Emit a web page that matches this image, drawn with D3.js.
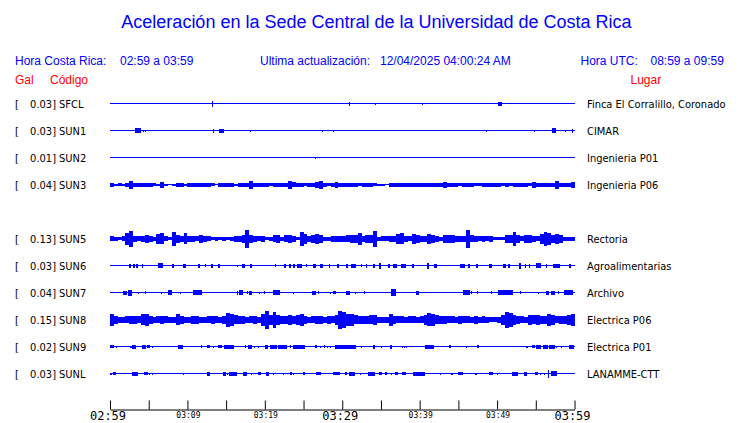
<!DOCTYPE html>
<html><head><meta charset="utf-8">
<script src="https://cdn.jsdelivr.net/npm/d3@7"></script>
<style>body{margin:0;background:#fff} svg{display:block}</style>
</head><body><svg id="c" width="740" height="423"></svg>
<script>
// ---------- data ----------
const titleText = "Aceleración en la Sede Central de la Universidad de Costa Rica";
const localWindow = "02:59 a 03:59";
const utcWindow = "08:59 a 09:59";
const lastUpdate = "12/04/2025 04:00:24 AM";

const stationSlots = ["SFCL","SUN1","SUN2","SUN3","SUN4","SUN5","SUN6","SUN7","SUN8","SUN9","SUNL"];
const stations = ["SFCL","SUN1","SUN2","SUN3","SUN5","SUN6","SUN7","SUN8","SUN9","SUNL"];
const peakGal = [0.03,0.03,0.01,0.04,0.13,0.03,0.04,0.15,0.02,0.03];
const places = ["Finca El Corralillo, Coronado","CIMAR","Ingenieria P01","Ingenieria P06","Rectoria","Agroalimentarias","Archivo","Electrica P06","Electrica P01","LANAMME-CTT"];

const tickMinutes = [0,5,10,15,20,25,30,35,40,45,50,55,60];
const majorLabels = [[0,"02:59"],[30,"03:29"],[60,"03:59"]];
const minorLabels = [[10,"03:09"],[20,"03:19"],[40,"03:39"],[50,"03:49"]];

// sparse stations: [startMinute, endMinute, amplitude]
const sfclEvents = [[13.2,13.3,3],[30.88,30.95,2],[34.28,34.3,1],[40.3,40.35,1],[50.15,50.67,2]];
const sun1Events = [[3.23,4.0,2.5],[4.22,4.26,1],[4.55,4.6,1],[13.33,13.38,2],[14.06,14.67,2],[18.1,18.14,1],[27.32,27.36,1],[28.81,28.85,1],[48.55,48.6,1],[54.75,54.8,1],[57.03,57.55,2.5],[58.8,58.85,1],[59.65,59.72,2]];
const sun2Events = [[26.49,26.55,1]];
const sun6Events = [[2.49,2.67,2],[3.01,3.23,2],[3.35,3.65,2],[4.09,4.3,2],[6.23,6.8,2.5],[8.04,8.26,2],[9.38,9.81,2],[11.39,11.61,2],[12.26,12.32,1.5],[13.03,13.25,2],[13.97,14.19,2],[16.35,16.4,1],[16.99,17.42,2],[18.06,18.28,2],[21.29,21.34,1.5],[22.45,22.71,2],[23.14,23.32,2],[23.65,23.87,2],[24.17,24.74,2],[25.29,25.34,1.5],[26.23,26.67,2],[27.1,27.45,2],[28.3,28.48,2],[29.33,29.59,2],[30.45,30.71,2],[31.19,31.74,2],[32.48,32.54,1.5],[33.03,33.2,2],[33.97,34.19,2],[34.75,35.01,3],[35.91,36.13,2],[36.55,37.07,2],[37.64,38.28,2],[39.06,39.32,2],[40.99,41.2,3],[41.85,42.23,2],[45.25,45.81,2],[46.23,46.45,2],[47.32,47.52,2],[48.94,49.38,2],[50.75,51.1,2],[51.39,51.61,2],[52.81,53.12,3],[53.55,53.68,2],[54.1,54.28,2],[55.06,55.7,2.5],[56.26,56.43,2],[57.2,58.19,2],[59.35,59.57,2]];
const sun7Events = [[1.64,2.15,2],[2.36,2.8,3],[3.65,3.7,1],[4.52,4.57,1.5],[6.58,6.63,1],[7.52,7.96,2.5],[9.03,9.08,1],[10.75,11.83,2.5],[16.35,16.55,2],[16.68,17.12,2.5],[17.64,17.69,1.5],[17.97,18.28,2],[19.26,19.31,1],[19.87,19.92,1.5],[21.07,21.94,2.5],[23.65,23.7,1],[26.03,26.67,2],[26.88,26.93,1.5],[28.39,28.44,1],[28.81,29.25,1.5],[30.54,31.06,2],[31.61,31.66,1],[32.77,32.82,1.5],[36.35,36.99,3.5],[39.57,39.91,2],[45.59,46.45,2.5],[46.67,46.72,1.5],[47.39,47.44,1.5],[49.25,49.3,1.5],[50.1,52.04,2.5],[52.9,52.95,1.5],[55.26,55.31,1],[56.35,56.68,2],[56.99,57.42,2],[57.85,57.9,1.5],[58.58,59.78,2.5]];
const sun9Events = [[0,0.56,1.5],[0.73,0.78,1],[2.58,2.8,1],[2.88,3.35,2],[4.09,4.6,2],[4.73,5.16,1.5],[5.46,5.51,1],[8.73,9.46,2],[11.74,11.91,1.5],[12.47,12.9,1.5],[13.33,13.38,1],[13.98,14.41,1.5],[14.75,16.0,2],[17.42,17.63,1.5],[17.85,18.28,2],[18.62,18.67,1],[19.14,19.19,1],[20.0,20.43,2],[20.73,21.51,2],[21.72,22.8,2],[23.23,23.44,1.5],[23.66,25.16,2],[26.45,26.71,1.5],[27.18,27.23,1],[27.61,27.83,1.5],[28.09,28.14,1],[28.39,28.44,1],[29.03,31.83,2],[32.47,32.52,1],[33.98,34.28,2],[35.05,35.1,1],[36.13,36.43,2],[37.72,37.77,1],[37.94,37.99,1],[38.28,38.33,1],[38.71,38.76,0.5],[40.65,41.81,2],[42.58,42.63,0.5],[43.74,44.09,1.5],[46.02,46.07,1],[47.44,47.7,1.5],[48.6,48.65,0.5],[51.27,51.32,0.5],[53.76,53.98,1],[54.54,54.84,1.5],[55.05,55.7,2],[55.91,56.56,2],[56.77,57.42,2],[57.63,57.68,1],[58.28,58.33,1],[58.71,58.76,0.5],[59.35,59.91,2]];
const sunlEvents = [[0,0.22,1],[0.43,0.77,1.5],[2.8,3.66,2],[4.43,4.86,1.5],[5.08,5.16,1],[5.38,5.43,1],[5.59,5.64,0.5],[6.75,6.8,0.5],[9.38,9.59,1],[11.05,11.1,0.5],[12.56,12.95,2],[13.55,13.6,0.5],[14.54,14.92,2],[15.05,15.18,1],[15.4,16.39,2],[17.12,17.76,2],[18.15,18.2,1],[19.14,19.48,1.5],[20.13,20.56,2],[21.08,21.13,1],[22.37,22.49,1],[23.23,23.53,1.5],[23.66,23.71,1],[24.95,25.25,1.5],[26.67,27.31,1.5],[28.82,29.68,1.5],[30.32,30.67,1.5],[30.88,31.7,2],[32.26,32.31,1],[33.33,34.28,2],[34.71,35.14,1.5],[35.57,35.83,1.5],[36.26,36.31,1],[36.77,37.2,1.5],[37.72,38.28,1.5],[39.14,40.65,2],[42.58,42.8,1],[44.0,44.3,1],[44.95,45.59,1.5],[47.18,47.44,1],[48.95,49.46,1.5],[49.98,50.03,1],[51.91,52.69,2],[53.42,53.89,2],[54.84,55.27,1.5],[55.48,55.53,1],[56.04,56.22,1],[56.56,56.77,4],[56.9,57.76,2.5],[59.23,59.28,0.5]];

// dense stations: amplitude envelope per half-minute
const sun3Env = [2,1,1.5,1,2,4,2,2,2,2, 2,1.5,1,3,1,0.5,1,2,2,1, 2,2,2,2,2,2,1.5,0.5,2,2, 2,2,1,2,2,2,4,2,2,2, 2,1.5,2,2,2,2,4,2.5,2,2, 1.5,2,2,3,4,2,1.5,2,3,2, 2,2,2,2,1.5,2,2,2,1.5,1, 1,0.5,2,2,2,2,2,2,2,2, 2,2,2,2,2,2,3,2,2,2, 1.5,2,2,2,1.5,1.5,2,2,2,2, 2,1.5,2,1.5,2,2,2,2,1.5,3, 2,2,2,2,2,4,2,2,2,3];
const sun5Env = [2.5,2,1.5,2.5,6,8,3,2.5,3,4, 3,2,5,5.5,2.5,1.5,7,4,3,5.5, 3,3,2.5,4,3,2.5,1.5,2,1.5,2, 1.5,2,3,3,4,9,4,3,2.5,3, 1.5,2,3.5,4,2,3.5,4,3,1.5,7, 5,3,4,5,4,2,2,3,3,3, 3,3.5,4,4,6,3,4,4,8,2, 2.5,2.5,3,3,5,5.5,3,2.5,5,4, 3,3,5,4,3,2,4,4,4,3, 3,3,9,3.5,3,2.5,3,2.5,3,1.5, 1.5,1.5,4,4,7,4,2.5,4,4,3, 2.5,5,7,6,4,5,4,2,2,2];
const sun8Env = [6,4,3,3,3.5,4,4,3.5,5.5,6, 4,3,3.5,4,3.5,3,3,5.5,4,3, 3,4,4,3,3,3.5,4,3.5,3,4, 7,6,4.5,4,4,3,3.5,4,3,6, 9,5,8,5,4,4,5,4,5,6, 4,3,3.5,4,4,3,4,3.5,5,9, 8,6,6,4.5,4,4,4,4.5,5,3, 3,3,6,4,3.5,3.5,3,3.5,3.5,3, 3.5,5,6.5,6,4.5,4,4,3.5,3.5,3, 4,3.5,3.5,3,4,3,3.5,3,2.5,2.5, 3,5,8,7,5,4,3.5,3,5,4.5, 5,4,4,6,5,3.5,4,4,5,6];

const eventsByStation = {SFCL:sfclEvents,SUN1:sun1Events,SUN2:sun2Events,SUN6:sun6Events,SUN7:sun7Events,SUN9:sun9Events,SUNL:sunlEvents};
const envByStation = {SUN3:sun3Env,SUN5:sun5Env,SUN8:sun8Env};
const binMinutes = 0.5;

// ---------- drawing ----------
const BLUE = "#0000ff", RED = "#ff0000";
const svg = d3.select("#c");
svg.append("rect").attr("width",740).attr("height",423).attr("fill","#fff");

const x = d3.scaleLinear().domain([0,60]).range([110,574.5]);
const row = d3.scalePoint().domain(stationSlots).range([103.5,373.5]);
const amp = d3.scaleLinear().domain([-10,10]).range([10,-10]);

const sans = "'Liberation Sans', Arial, sans-serif";
const lab = "'DejaVu Sans Condensed','DejaVu Sans',sans-serif";

svg.append("text").attr("x",376.5).attr("y",28).attr("text-anchor","middle")
  .attr("font-family",sans).attr("font-size",18).attr("fill",BLUE).text(titleText);

const hdr = (t,xp,yp,col,anchor) => svg.append("text").attr("x",xp).attr("y",yp)
  .attr("text-anchor",anchor||"start").attr("font-family",sans).attr("font-size",12).attr("fill",col).text(t);
hdr("Hora Costa Rica:",15,65,BLUE);
hdr(localWindow,120,65,BLUE);
hdr("Ultima actualización:",260,65,BLUE);
hdr(lastUpdate,380,65,BLUE);
hdr("Hora UTC:",580.5,65,BLUE);
hdr(utcWindow,650.5,65,BLUE);
hdr("Gal",15,84,RED);
hdr("Código",50,84,RED);
hdr("Lugar",630.5,84,RED);

stations.forEach((code,i) => {
  const y0 = row(code);
  const g = svg.append("g").attr("transform",`translate(0,${y0})`);
  // labels
  g.append("text").attr("x",15).attr("y",4.5).attr("font-family",lab).attr("font-size",11).attr("fill","#000").text("[");
  g.append("text").attr("x",56).attr("y",4.5).attr("text-anchor","end").attr("font-family",lab).attr("font-size",11).attr("fill","#000").text(peakGal[i].toFixed(2)+"]");
  g.append("text").attr("x",59).attr("y",4.5).attr("font-family",lab).attr("font-size",11).attr("fill","#000").text(code);
  g.append("text").attr("x",587).attr("y",4.5).attr("font-family",lab).attr("font-size",11).attr("fill","#000").text(places[i]);
  // baseline
  g.append("line").attr("x1",x(0)).attr("x2",x(60)).attr("y1",0).attr("y2",0)
    .attr("stroke",BLUE).attr("stroke-width",1).attr("shape-rendering","crispEdges");
  const tr = g.append("g").attr("fill",BLUE).attr("shape-rendering","crispEdges");
  if (envByStation[code]) {
    const env = envByStation[code];
    const pts = env.map((v,k)=>[k*binMinutes,v]);
    pts.push([60, env[env.length-1]]);
    const area = d3.area().x(d=>x(d[0])).y0(d=>amp(-d[1])).y1(d=>amp(d[1])).curve(d3.curveStepAfter);
    tr.append("path").attr("d",area(pts)).attr("fill",BLUE);
  }
  if (eventsByStation[code]) {
    tr.selectAll("rect").data(eventsByStation[code]).join("rect")
      .attr("x",d=>x(d[0]))
      .attr("width",d=>Math.max(1,x(d[1])-x(d[0])))
      .attr("y",d=>amp(d[2]))
      .attr("height",d=>amp(-d[2])-amp(d[2]));
  }
});

// time axis
const axisY = 409.5;
const axis = d3.axisTop(x).tickValues(tickMinutes).tickSize(9).tickSizeOuter(0).tickFormat("");
const ag = svg.append("g").attr("transform",`translate(0,${axisY})`).call(axis);
ag.select(".domain").attr("stroke","#000");
ag.selectAll(".tick line").attr("stroke","#000");
svg.selectAll("text.major").data(majorLabels).join("text").attr("class","major")
  .attr("x",d=>x(d[0])-2).attr("y",419.5).attr("text-anchor","middle")
  .attr("font-family","'DejaVu Sans Mono',monospace").attr("font-size",12).attr("fill","#000").text(d=>d[1]);
svg.selectAll("text.minor").data(minorLabels).join("text").attr("class","minor")
  .attr("x",d=>x(d[0])+1).attr("y",417.5).attr("text-anchor","middle")
  .attr("font-family","'DejaVu Sans Mono',monospace").attr("font-size",8).attr("fill","#000").text(d=>d[1]);
</script></body></html>
